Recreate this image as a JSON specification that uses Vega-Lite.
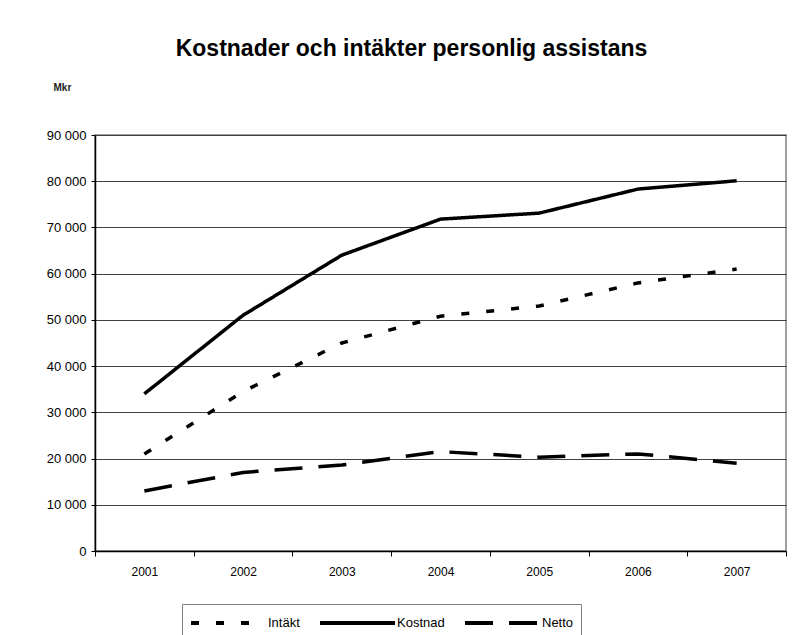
{
  "$schema": "https://vega.github.io/schema/vega-lite/v6.json",
  "width": 691,
  "height": 416,
  "autosize": {"type": "none"},
  "padding": {"left": 95, "top": 135, "right": 23, "bottom": 84},
  "background": "white",
  "title": {
    "text": "Kostnader och intäkter personlig assistans",
    "font": "Liberation Sans",
    "fontSize": 23,
    "fontWeight": "bold",
    "color": "black",
    "anchor": "middle",
    "frame": "group",
    "dx": -29,
    "offset": 21
  },
  "data": {
    "values": [
      {"year": "2001", "serie": "Intäkt", "value": 21000},
      {"year": "2002", "serie": "Intäkt", "value": 34500},
      {"year": "2003", "serie": "Intäkt", "value": 45000},
      {"year": "2004", "serie": "Intäkt", "value": 50800},
      {"year": "2005", "serie": "Intäkt", "value": 53000},
      {"year": "2006", "serie": "Intäkt", "value": 58000},
      {"year": "2007", "serie": "Intäkt", "value": 61000},
      {"year": "2001", "serie": "Kostnad", "value": 34000},
      {"year": "2002", "serie": "Kostnad", "value": 51000},
      {"year": "2003", "serie": "Kostnad", "value": 64000},
      {"year": "2004", "serie": "Kostnad", "value": 71800},
      {"year": "2005", "serie": "Kostnad", "value": 73100},
      {"year": "2006", "serie": "Kostnad", "value": 78300},
      {"year": "2007", "serie": "Kostnad", "value": 80100},
      {"year": "2001", "serie": "Netto", "value": 13000},
      {"year": "2002", "serie": "Netto", "value": 17000},
      {"year": "2003", "serie": "Netto", "value": 18600},
      {"year": "2004", "serie": "Netto", "value": 21500},
      {"year": "2005", "serie": "Netto", "value": 20300},
      {"year": "2006", "serie": "Netto", "value": 21000},
      {"year": "2007", "serie": "Netto", "value": 19000}
    ]
  },
  "mark": {"type": "line", "strokeWidth": 3.5, "color": "black", "strokeCap": "butt"},
  "encoding": {
    "x": {
      "field": "year",
      "type": "ordinal",
      "scale": {"paddingInner": 0, "paddingOuter": 0},
      "axis": {
        "title": null,
        "labelAngle": 0,
        "labelFont": "Liberation Sans",
        "labelFontSize": 12,
        "labelColor": "black",
        "tickBand": "extent",
        "tickColor": "black",
        "tickSize": 5,
        "domainColor": "black",
        "domainWidth": 1.5,
        "labelPadding": 10,
        "grid": false
      }
    },
    "y": {
      "field": "value",
      "type": "quantitative",
      "scale": {"domain": [0, 90000], "nice": false},
      "axis": {
        "values": [0, 10000, 20000, 30000, 40000, 50000, 60000, 70000, 80000, 90000],
        "labelExpr": "replace(format(datum.value, ','), ',', ' ')",
        "labelFont": "Liberation Sans",
        "labelFontSize": 13,
        "labelColor": "black",
        "title": "Mkr",
        "titleAngle": 0,
        "titleX": -42,
        "titleY": -48,
        "titleAlign": "left",
        "titleBaseline": "middle",
        "titleFont": "Liberation Sans",
        "titleFontSize": 10,
        "titleFontWeight": "bold",
        "titleColor": "#222222",
        "grid": true,
        "gridColor": "#404040",
        "gridWidth": 1,
        "domainColor": "black",
        "domainWidth": 1.5,
        "tickColor": "black",
        "tickSize": 4,
        "labelPadding": 5
      }
    },
    "strokeDash": {
      "field": "serie",
      "type": "nominal",
      "scale": {"domain": ["Intäkt", "Kostnad", "Netto"], "range": [[8, 17], [1, 0], [28, 16]]},
      "legend": {
        "title": null,
        "orient": "none",
        "legendX": 87,
        "legendY": 469,
        "direction": "horizontal",
        "padding": 7,
        "strokeColor": "#808080",
        "fillColor": "white",
        "symbolType": "M-1,0H6.5",
        "symbolSize": 400,
        "symbolStrokeWidth": 4,
        "symbolStrokeColor": "black",
        "labelFont": "Liberation Sans",
        "labelFontSize": 13,
        "labelColor": "black",
        "labelOffset": 55,
        "columnPadding": 12
      }
    }
  },
  "config": {"view": {"stroke": "#808080", "strokeWidth": 1.5}}
}
